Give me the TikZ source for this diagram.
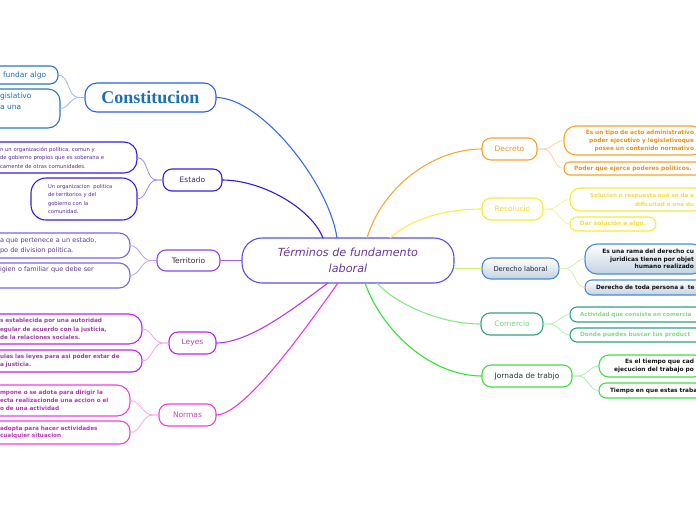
\documentclass[tikz,border=0pt]{standalone}
\usepackage{fontspec}
\setmainfont{DejaVu Sans}
\newfontfamily\consfont{Liberation Serif}
\newcommand\nb[1]{\mbox{#1}}
\definecolor{bCon}{HTML}{2A62E8}\definecolor{tCon}{HTML}{1E6FB4}\definecolor{lCon}{HTML}{3A6CF0}
\definecolor{kbCon}{HTML}{2A78C0}\definecolor{ktCon}{HTML}{1E70B0}\definecolor{klCon}{HTML}{A0B8F8}
\definecolor{bEst}{HTML}{3A1FE0}\definecolor{tEst}{HTML}{3B2A78}\definecolor{lEst}{HTML}{3A1AD8}
\definecolor{ktEst}{HTML}{5A2A9A}\definecolor{klEst}{HTML}{9A88F0}
\definecolor{bTer}{HTML}{8848F0}\definecolor{tTer}{HTML}{352A45}\definecolor{lTer}{HTML}{A060F0}
\definecolor{kbTer}{HTML}{7B62F0}\definecolor{ktTer}{HTML}{5A3A90}\definecolor{klTer}{HTML}{C0A0F8}
\definecolor{bLey}{HTML}{C024F0}\definecolor{tLey}{HTML}{A050A8}\definecolor{lLey}{HTML}{B838F0}
\definecolor{ktLey}{HTML}{A040A8}\definecolor{klLey}{HTML}{E8A8F8}
\definecolor{bNor}{HTML}{F040E0}\definecolor{tNor}{HTML}{C040B8}\definecolor{lNor}{HTML}{F038D8}
\definecolor{ktNor}{HTML}{C030B8}\definecolor{klNor}{HTML}{F8A8E8}
\definecolor{bDec}{HTML}{F8A428}\definecolor{tDec}{HTML}{F09020}\definecolor{lDec}{HTML}{F8A838}
\definecolor{klDec}{HTML}{FAD498}
\definecolor{bRes}{HTML}{F8E840}\definecolor{tRes}{HTML}{F0D830}\definecolor{lRes}{HTML}{F8F048}
\definecolor{ktRes}{HTML}{F0E040}\definecolor{klRes}{HTML}{FAF0A0}
\definecolor{bDer}{HTML}{4A8CD0}\definecolor{tDer}{HTML}{1E2A35}\definecolor{lDer}{HTML}{C8F070}
\definecolor{gDer}{HTML}{C3D2E2}\definecolor{klDer}{HTML}{D8F0A0}
\definecolor{bCom}{HTML}{30A080}\definecolor{tCom}{HTML}{7AD67A}\definecolor{lCom}{HTML}{88E888}
\definecolor{ktCom}{HTML}{88D888}\definecolor{klCom}{HTML}{B8F0B0}
\definecolor{bJor}{HTML}{40E040}\definecolor{tJor}{HTML}{2A3838}\definecolor{lJor}{HTML}{38E038}
\definecolor{klJor}{HTML}{A8F0A8}
\definecolor{bHub}{HTML}{5A50E8}\definecolor{tHub}{HTML}{6A3898}
\definecolor{dark}{HTML}{141414}
\tikzset{
  every node/.style={outer sep=0pt},
  hub/.style={draw=bHub, line width=1.1pt, rounded corners=20pt, fill=white, inner sep=0pt,
    minimum width=212pt, minimum height=45pt, align=center, text=tHub,
    font=\itshape\fontsize{11.2}{16}\selectfont},
  branch/.style={draw, line width=1.1pt, rounded corners=9pt, fill=white, inner sep=0pt,
    font=\fontsize{7.5}{9}\selectfont},
  kid/.style={draw, line width=1.1pt, fill=white, inner ysep=0pt, rounded corners=11pt},
  lkid/.style={kid, anchor=east, inner xsep=15pt, align=left},
  rkid/.style={kid, anchor=west, inner xsep=10pt, align=right},
  rkidl/.style={kid, anchor=west, align=left, text width=160pt},
  mainline/.style={line width=1.1pt},
  kidline/.style={line width=0.8pt},
}
\begin{document}
\begin{tikzpicture}[x=1pt,y=-1pt]
\useasboundingbox (0,0) rectangle (696,520);
\fill[white] (0,0) rectangle (696,520);

% hub
\node[hub] (c) at (348,260.5) {Términos de fundamento\\laboral};

% branches
\node[branch, draw=bCon, minimum width=131pt, minimum height=29pt, rounded corners=12pt, text=tCon,
  font=\consfont\bfseries\fontsize{18}{20}\selectfont] (con) at (150.5,97.5) {Constitucion};
\node[branch, draw=bEst, text=tEst, minimum width=59pt, minimum height=22pt] (est) at (192.5,180) {Estado};
\node[branch, draw=bTer, text=tTer, minimum width=63pt, minimum height=21pt] (ter) at (188.5,260.5) {Territorio};
\node[branch, draw=bLey, text=tLey, minimum width=47pt, minimum height=22pt] (ley) at (192.5,343) {Leyes};
\node[branch, draw=bNor, text=tNor, minimum width=57pt, minimum height=22pt] (nor) at (187.5,415) {Normas};
\node[branch, draw=bDec, text=tDec, minimum width=55pt, minimum height=22pt] (dec) at (509.5,149) {Decreto};
\node[branch, draw=bRes, text=tRes, minimum width=61pt, minimum height=22pt] (res) at (512.5,209) {Resolucio};
\node[branch, draw=bDer, text=tDer, top color=white, bottom color=gDer, minimum width=77pt, minimum height=21pt,
  font=\fontsize{6.8}{9}\selectfont] (der) at (520.5,268.5) {Derecho laboral};
\node[branch, draw=bCom, text=tCom, minimum width=62pt, minimum height=22pt] (com) at (512,324) {Comercio};
\node[branch, draw=bJor, text=tJor, minimum width=90pt, minimum height=22pt] (jor) at (527,376) {Jornada de trabjo};

% main connectors
\draw[mainline, draw=lCon] ([xshift=-11pt]c.north) .. controls +(-8,-55) and +(45,0) .. (con.east);
\draw[mainline, draw=lEst] ([xshift=-25pt]c.north) .. controls +(-12,-30) and +(40,0) .. (est.east);
\draw[mainline, draw=lTer] (c.west) -- (ter.east);
\draw[mainline, draw=lLey] ([xshift=-20pt]c.south) .. controls +(-30,22) and +(35,0) .. (ley.east);
\draw[mainline, draw=lNor] ([xshift=-10pt]c.south) .. controls +(-30,42) and +(29,0) .. (nor.east);
\draw[mainline, draw=lDec] ([xshift=19pt]c.north) .. controls +(15,-50) and +(-50,0) .. (dec.west);
\draw[mainline, draw=lRes] ([xshift=42pt]c.north) .. controls +(20,-18) and +(-40,0) .. (res.west);
\draw[mainline, draw=lDer] (c.east |- der.west) -- (der.west);
\draw[mainline, draw=lCom] ([xshift=29pt]c.south) .. controls +(20,22) and +(-40,0) .. (com.west);
\draw[mainline, draw=lJor] ([xshift=17pt]c.south) .. controls +(18,50) and +(-50,0) .. (jor.west);

% left children
\node[lkid, draw=kbCon, text=ktCon, text width=40pt, minimum height=18pt, rounded corners=8pt,
  font=\fontsize{7.5}{11}\selectfont] (cc1) at (58,75) {\nb{fundar algo}};
\node[lkid, draw=kbCon, text=ktCon, text width=45pt, minimum height=39pt, rounded corners=12pt,
  font=\fontsize{7.5}{11}\selectfont] (cc2) at (60,108.5) {\nb{gislativo}\\\nb{a una}\\\strut};

\node[lkid, draw=bEst, text=ktEst, text width=122pt, minimum height=31pt, rounded corners=13pt,
  font=\fontsize{5.3}{8.5}\selectfont] (ec1) at (137,157.5)
  {\nb{n un organización política, comun y}\\\nb{de gobierno propios que es soberana e}\\\nb{camente de otras comunidades.}};
\node[kid, anchor=west, inner xsep=17pt, align=left, text width=72pt, draw=bEst, text=ktEst,
  minimum height=42pt, rounded corners=15pt, font=\fontsize{5.2}{8.3}\selectfont] (ec2) at (31,199)
  {\nb{Un organizacion~ politica}\\\nb{de territorios y del}\\\nb{gobierno con la}\\\nb{comunidad.}};

\node[lkid, draw=kbTer, text=ktTer, text width=115pt, minimum height=25pt, rounded corners=11pt,
  font=\fontsize{6.5}{9.5}\selectfont] (tc1) at (130,245.5)
  {\nb{a que pertenece a un estado,}\\\nb{po de division politica.}};
\node[lkid, draw=kbTer, text=ktTer, text width=115pt, minimum height=25pt, rounded corners=11pt,
  font=\fontsize{6.5}{9.5}\selectfont] (tc2) at (130,275.5)
  {\nb{igien o familiar que debe ser}\\\strut};

\node[lkid, draw=bLey, text=ktLey, text width=127pt, minimum height=30pt, rounded corners=13pt,
  font=\bfseries\fontsize{5.7}{8.3}\selectfont] (lc1) at (142,329)
  {\nb{s establecida por una autoridad}\\\nb{egular de acuerdo con la justicia,}\\\nb{de la relaciones sociales.}};
\node[lkid, draw=bLey, text=ktLey, text width=127pt, minimum height=22pt, rounded corners=10pt,
  font=\bfseries\fontsize{5.7}{8.3}\selectfont] (lc2) at (142,361)
  {\nb{ulas las leyes para asi poder estar de}\\\nb{a justicia.}};

\node[lkid, draw=bNor, text=ktNor, text width=115pt, minimum height=31pt, rounded corners=13pt,
  font=\bfseries\fontsize{5.7}{7.8}\selectfont] (nc1) at (130,400.5)
  {\nb{mpone o se adota para dirigir la}\\\nb{ecta realizacionde una accion o el}\\\nb{o de una actividad}};
\node[lkid, draw=bNor, text=ktNor, text width=115pt, minimum height=23pt, rounded corners=10pt,
  font=\bfseries\fontsize{5.7}{7.8}\selectfont] (nc2) at (130,432.5)
  {\nb{adopta para hacer actividades}\\\nb{cualquier situacion}};

% right children
\node[rkid, draw=bDec, text=tDec, text width=120pt, minimum height=29pt, rounded corners=12pt,
  font=\bfseries\fontsize{5.8}{8}\selectfont] (dc1) at (564,140.5)
  {\nb{Es un tipo de acto administrativo}\\\nb{poder ejecutivo y legislativoque}\\\nb{posee un contenido normativo}};
\node[rkidl, inner xsep=10pt, draw=bDec, text=tDec, minimum height=13pt, rounded corners=6pt,
  font=\bfseries\fontsize{5.9}{8}\selectfont] (dc2) at (564,168.5) {\nb{Poder que ejerce poderes politicos.}};

\node[rkid, draw=bRes, text=ktRes, text width=114pt, minimum height=23pt, rounded corners=10pt,
  font=\bfseries\fontsize{5.6}{9}\selectfont] (rc1) at (570,199.5)
  {\nb{Solucion o respuesta que se da a}\\\nb{dificultad o una du}};
\node[kid, anchor=west, inner xsep=0pt, minimum width=86pt, draw=bRes, text=ktRes, minimum height=14pt,
  rounded corners=7pt, font=\bfseries\fontsize{5.9}{8}\selectfont] (rc2) at (570,224) {Dar solución a algo.};

\node[rkid, draw=bDer, text=dark, top color=white, bottom color=gDer, text width=99pt, minimum height=30pt,
  rounded corners=12pt, font=\bfseries\fontsize{5.9}{7.5}\selectfont] (dlc1) at (585,259)
  {\nb{Es una rama del derecho cu}\\\nb{juridicas tienen por objet}\\\nb{humano realizado}};
\node[rkidl, inner xsep=11pt, draw=bDer, text=dark, top color=white, bottom color=gDer, minimum height=15pt,
  rounded corners=7pt, font=\bfseries\fontsize{5.8}{8}\selectfont] (dlc2) at (585,287.5)
  {\nb{Derecho de toda persona a~ te}};

\node[rkidl, inner xsep=10pt, draw=bCom, text=ktCom, minimum height=15pt, rounded corners=7pt,
  font=\bfseries\fontsize{5.6}{8}\selectfont] (cmc1) at (570,314.5) {\nb{Actividad que consiste en comercia}};
\node[rkidl, inner xsep=10pt, draw=bCom, text=ktCom, minimum height=14pt, rounded corners=7pt,
  font=\bfseries\fontsize{5.8}{8}\selectfont] (cmc2) at (570,335) {\nb{Donde puedes buscar tus product}};

\node[rkid, draw=bJor, text=dark, text width=85pt, minimum height=22pt, rounded corners=10pt,
  font=\bfseries\fontsize{5.9}{7.5}\selectfont] (jc1) at (599,366)
  {\nb{Es el tiempo que cad}\\\nb{ejecucion del trabajo po}};
\node[rkidl, inner xsep=11pt, draw=bJor, text=dark, minimum height=15pt, rounded corners=7pt,
  font=\bfseries\fontsize{5.8}{8}\selectfont] (jc2) at (599,390.5) {\nb{Tiempo en que estas traba}};

% child connectors
\draw[kidline, draw=klCon] (con.west) -- ++(-6,0) to[out=180,in=0] (cc1.east);
\draw[kidline, draw=klCon] (con.west) -- ++(-6,0) to[out=180,in=0] (cc2.east);
\draw[kidline, draw=klEst] (est.west) -- ++(-6,0) to[out=180,in=0] (ec1.east);
\draw[kidline, draw=klEst] (est.west) -- ++(-6,0) to[out=180,in=0] (ec2.east);
\draw[kidline, draw=klTer] (ter.west) -- ++(-6,0) to[out=180,in=0] (tc1.east);
\draw[kidline, draw=klTer] (ter.west) -- ++(-6,0) to[out=180,in=0] (tc2.east);
\draw[kidline, draw=klLey] (ley.west) -- ++(-6,0) to[out=180,in=0] (lc1.east);
\draw[kidline, draw=klLey] (ley.west) -- ++(-6,0) to[out=180,in=0] (lc2.east);
\draw[kidline, draw=klNor] (nor.west) -- ++(-6,0) to[out=180,in=0] (nc1.east);
\draw[kidline, draw=klNor] (nor.west) -- ++(-6,0) to[out=180,in=0] (nc2.east);
\draw[kidline, draw=klDec] (dec.east) -- ++(6,0) to[out=0,in=180] (dc1.west);
\draw[kidline, draw=klDec] (dec.east) -- ++(6,0) to[out=0,in=180] (dc2.west);
\draw[kidline, draw=klRes] (res.east) -- ++(6,0) to[out=0,in=180] (rc1.west);
\draw[kidline, draw=klRes] (res.east) -- ++(6,0) to[out=0,in=180] (rc2.west);
\draw[kidline, draw=klDer] (der.east) -- ++(6,0) to[out=0,in=180] (dlc1.west);
\draw[kidline, draw=klDer] (der.east) -- ++(6,0) to[out=0,in=180] (dlc2.west);
\draw[kidline, draw=klCom] (com.east) -- ++(6,0) to[out=0,in=180] (cmc1.west);
\draw[kidline, draw=klCom] (com.east) -- ++(6,0) to[out=0,in=180] (cmc2.west);
\draw[kidline, draw=klJor] (jor.east) -- ++(6,0) to[out=0,in=180] (jc1.west);
\draw[kidline, draw=klJor] (jor.east) -- ++(6,0) to[out=0,in=180] (jc2.west);
\end{tikzpicture}
\end{document}
